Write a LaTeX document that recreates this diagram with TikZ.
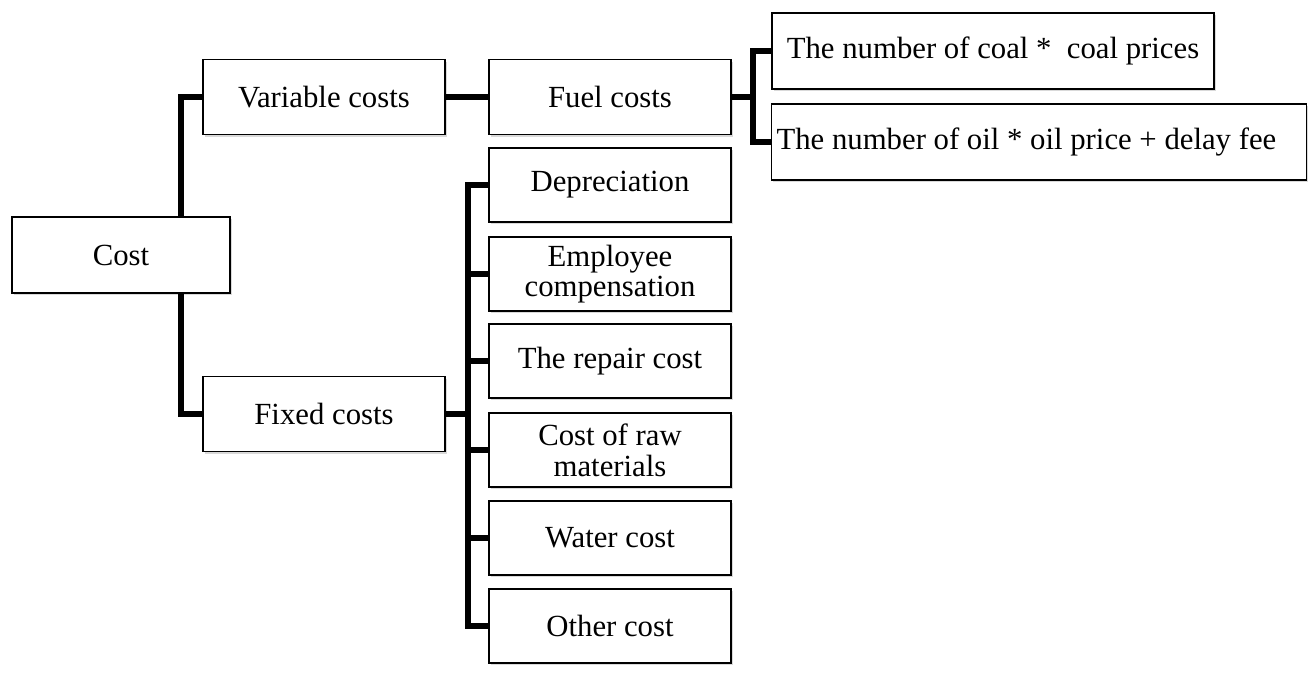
\documentclass[tikz,border=0pt]{standalone}
\usepackage{fontspec}
\setmainfont{Liberation Serif}
\usetikzlibrary{positioning, shadows}

\tikzset{
    box/.style={draw, line width=0.8pt, fill=white, minimum width=4.84cm, minimum height=1.48cm,
        align=center, inner sep=1pt, font=\fontsize{17.5}{17.5}\selectfont,
        drop shadow={opacity=0.3, shadow xshift=1.2pt, shadow yshift=-1.2pt}},
    link/.style={line width=3pt, line join=miter}
}

\begin{document}
\begin{tikzpicture}[x=0.02cm, y=-0.02cm]
    % frame of the picture
    \useasboundingbox (0,0) rectangle (1308,680);

    % root node
    \node[box, minimum width=4.36cm, minimum height=1.52cm] (cost) at (121,255) {Cost};

    % second level
    \node[box, minimum height=1.5cm] (var) at (324,97) {Variable costs};
    \node[box, minimum height=1.5cm] (fixed) at (324,414) {Fixed costs};

    % fuel branch
    \node[box, minimum height=1.5cm] (fuel) at (610,97) {Fuel costs};
    \node[box, minimum width=8.84cm, minimum height=1.52cm] (coal) at (993,51) {The number of coal *~~coal prices};
    \node[box, minimum width=10.68cm, minimum height=1.52cm, text width=10.5cm, align=flush left, inner xsep=3pt] (oil) at (1039,142) {The number of oil * oil price + delay~fee};

    % fixed branch
    \node[box] (dep) at (610,185) {Depreciation};
    \node[box] (emp) at (610,274) {Employee\\compensation};
    \node[box] (rep) at (610,361) {The repair cost};
    \node[box] (raw) at (610,450) {Cost of raw\\materials};
    \node[box] (wat) at (610,538) {Water cost};
    \node[box] (oth) at (610,626) {Other cost};

    % bus lines
    \coordinate (busA) at (181,0);
    \coordinate (busB) at (753,0);
    \coordinate (busC) at (468,0);

    % connectors
    \draw[link] (cost.north -| busA) |- (var.west);
    \draw[link] (cost.south -| busA) |- (fixed.west);
    \draw[link] (var.east) -- (fuel.west);
    \draw[link] (fuel.east) -- (fuel.east -| busB);
    \draw[link] (coal.west) -| (busB |- oil.west) -- (oil.west);
    \draw[link] (fixed.east) -- (fixed.east -| busC);
    \draw[link] (dep.west) -| (busC |- oth.west) -- (oth.west);
    \foreach \n in {emp, rep, raw, wat}
        \draw[link] (\n.west) -- (\n.west -| busC);
\end{tikzpicture}
\end{document}
